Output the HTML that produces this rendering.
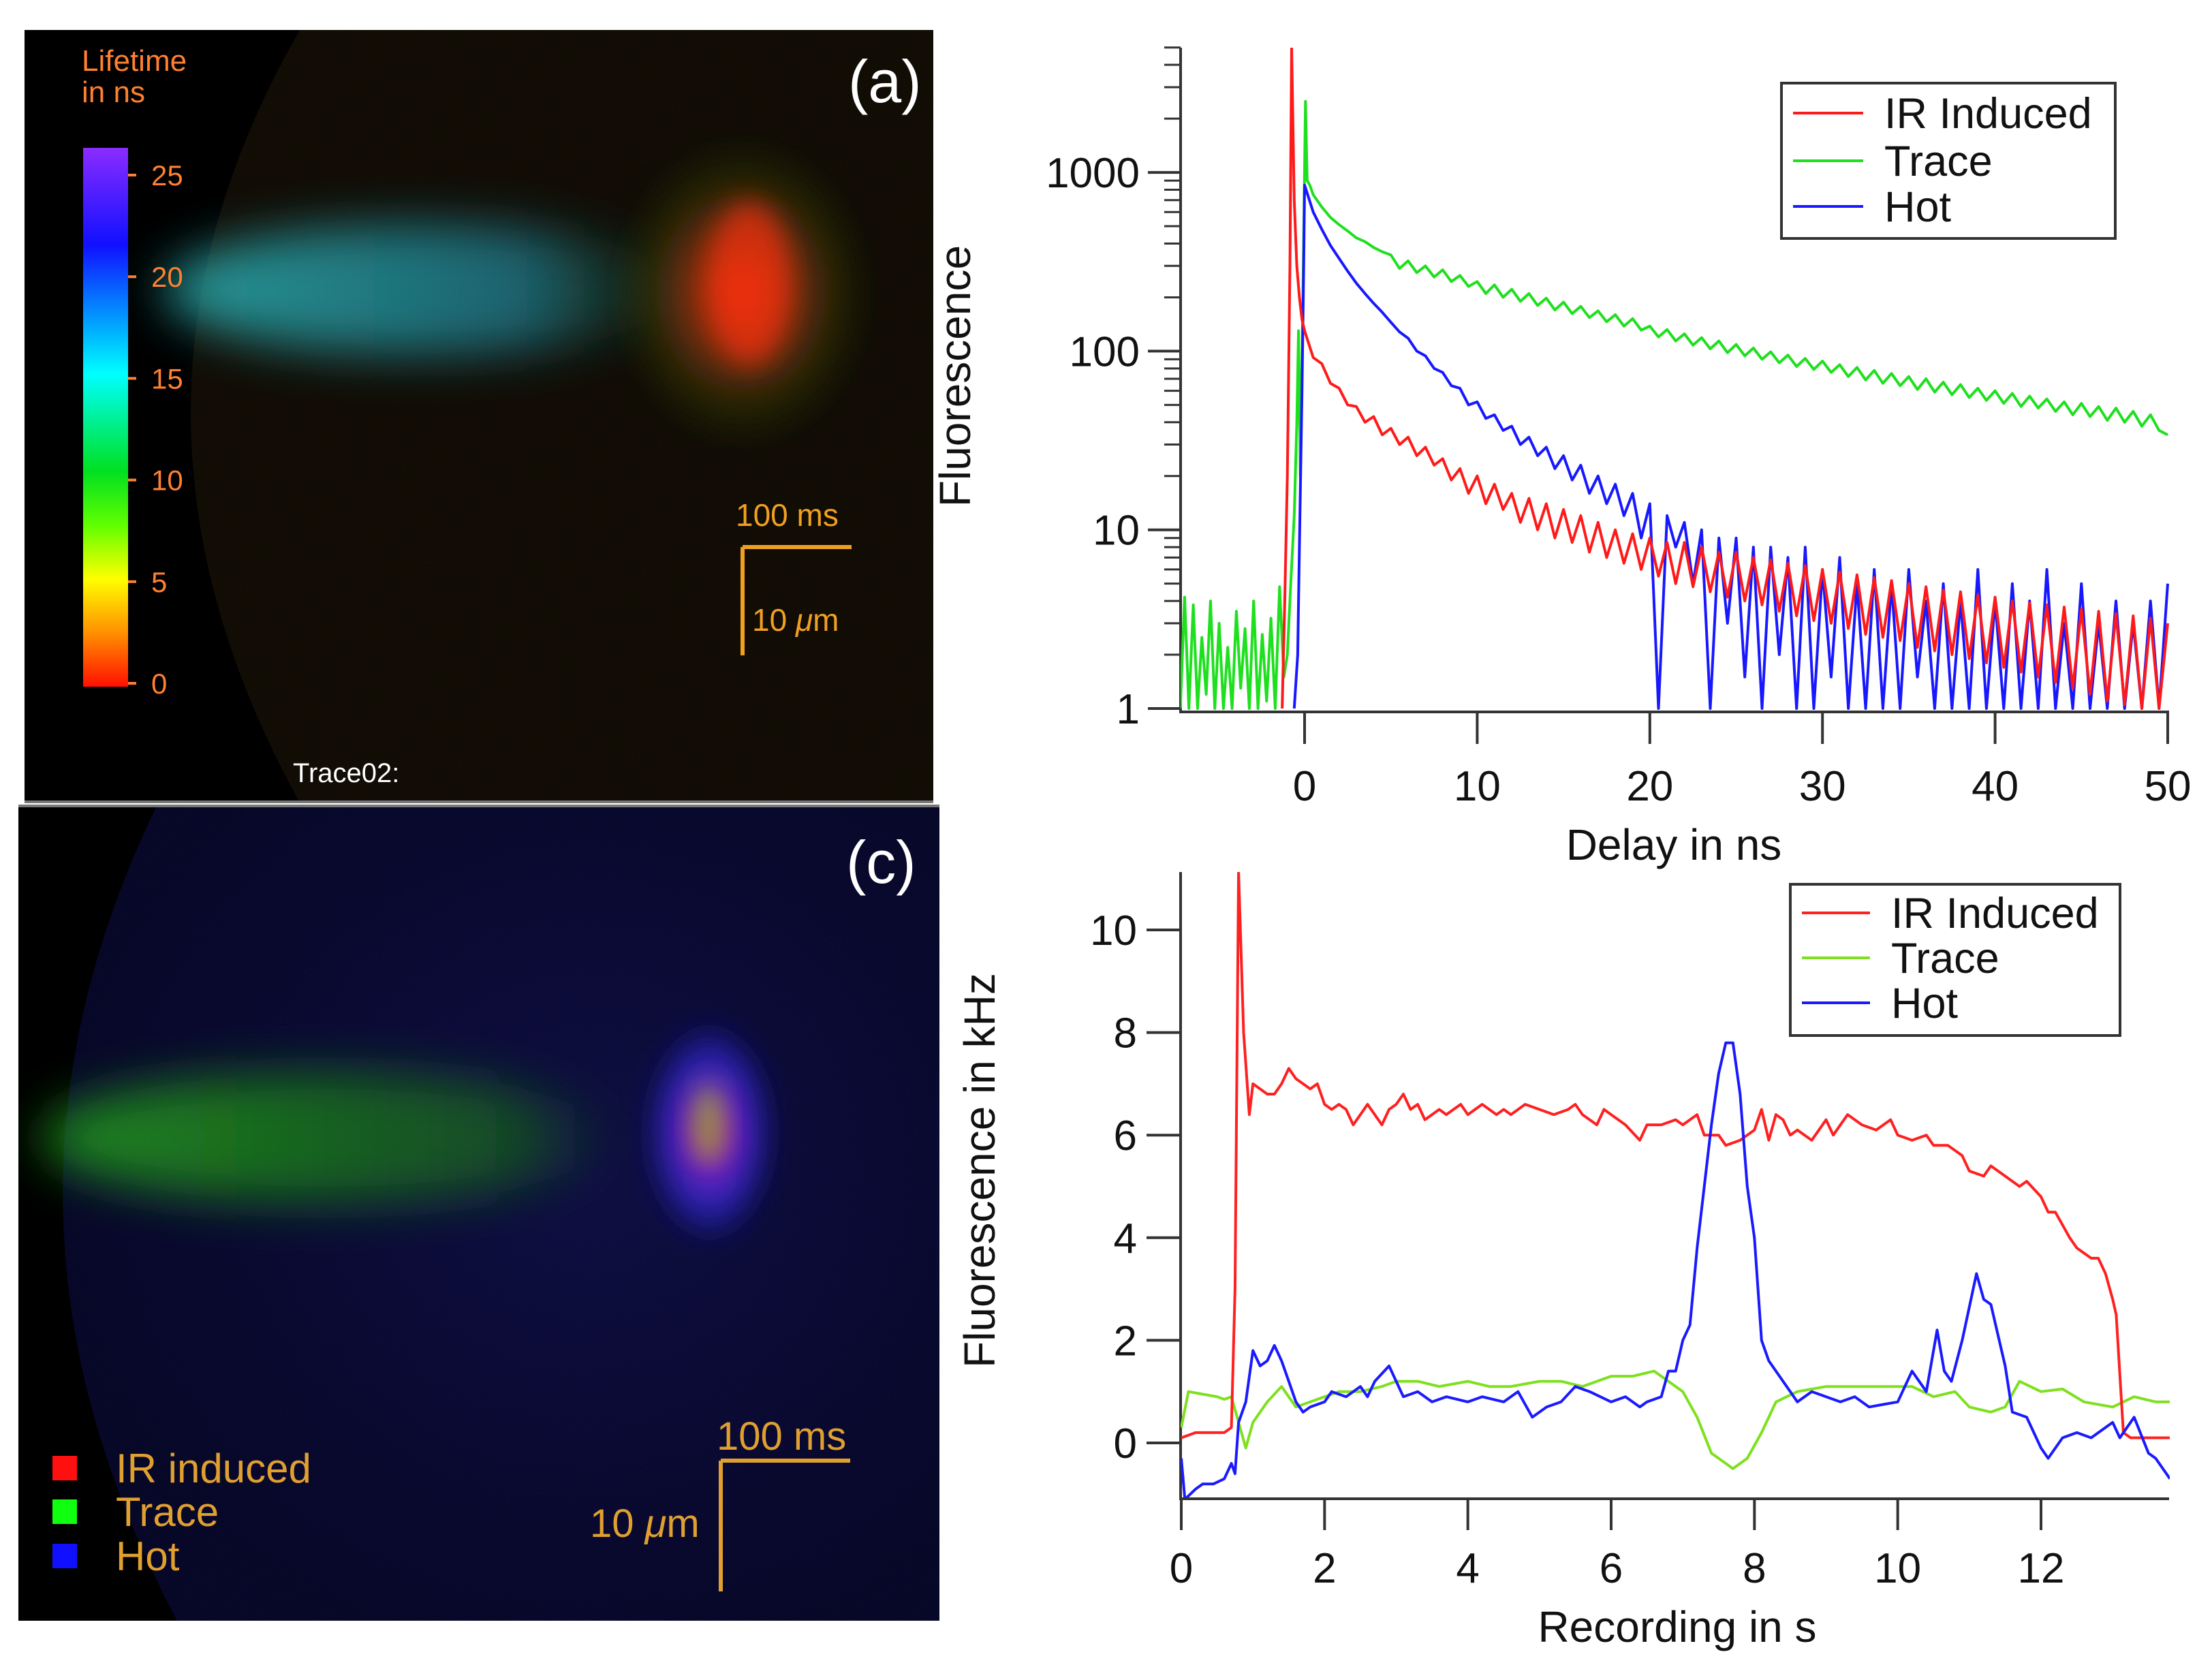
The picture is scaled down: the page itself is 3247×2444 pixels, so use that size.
<!DOCTYPE html>
<html><head><meta charset="utf-8"><style>
html,body{margin:0;padding:0;background:#fff;overflow:hidden;width:3247px;height:2444px;}
svg{display:block;font-family:"Liberation Sans",sans-serif;}
</style></head><body>
<svg id="fig" width="3247" height="2444" viewBox="0 0 3247 2444" xmlns="http://www.w3.org/2000/svg">
<defs>
  <filter id="noise" x="0" y="0" width="100%" height="100%">
    <feTurbulence type="fractalNoise" baseFrequency="0.9" numOctaves="1" seed="3" result="t"/>
    <feColorMatrix in="t" type="matrix" values="0 0 0 0 0  0 0 0 0 0  0 0 0 0 0  0 0 0 1.6 -0.6" result="m"/>
    <feComposite in="SourceGraphic" in2="m" operator="in"/>
  </filter>
  <filter id="blur40" x="-50%" y="-50%" width="200%" height="200%"><feGaussianBlur stdDeviation="35"/></filter>
  <filter id="blur20" x="-50%" y="-50%" width="200%" height="200%"><feGaussianBlur stdDeviation="18"/></filter>
  <linearGradient id="cbar" x1="0" y1="0" x2="0" y2="1">
    <stop offset="0" stop-color="#8a2cff"/>
    <stop offset="0.18" stop-color="#1010ff"/>
    <stop offset="0.34" stop-color="#00b0ff"/>
    <stop offset="0.42" stop-color="#00ffff"/>
    <stop offset="0.6" stop-color="#00e020"/>
    <stop offset="0.7" stop-color="#60ff00"/>
    <stop offset="0.8" stop-color="#ffff00"/>
    <stop offset="0.9" stop-color="#ff9000"/>
    <stop offset="1" stop-color="#ff1000"/>
  </linearGradient>
  <radialGradient id="redspot" cx="0.5" cy="0.5" r="0.5">
    <stop offset="0" stop-color="#ff3010" stop-opacity="0.9"/>
    <stop offset="0.4" stop-color="#c04010" stop-opacity="0.6"/>
    <stop offset="0.75" stop-color="#405010" stop-opacity="0.3"/>
    <stop offset="1" stop-color="#304010" stop-opacity="0"/>
  </radialGradient>
  <linearGradient id="tealband" x1="0" y1="0" x2="1" y2="0">
    <stop offset="0" stop-color="#28a0a0" stop-opacity="0.95"/>
    <stop offset="0.7" stop-color="#1c7080" stop-opacity="0.85"/>
    <stop offset="1" stop-color="#1a6040" stop-opacity="0"/>
  </linearGradient>
  <linearGradient id="greenband" x1="0" y1="0" x2="1" y2="0">
    <stop offset="0" stop-color="#20901e" stop-opacity="0.95"/>
    <stop offset="0.8" stop-color="#187018" stop-opacity="0.65"/>
    <stop offset="1" stop-color="#187018" stop-opacity="0"/>
  </linearGradient>
  <radialGradient id="bluespot" cx="0.5" cy="0.5" r="0.5">
    <stop offset="0" stop-color="#e02060" stop-opacity="0.95"/>
    <stop offset="0.35" stop-color="#8020e0" stop-opacity="0.85"/>
    <stop offset="0.7" stop-color="#3030ff" stop-opacity="0.5"/>
    <stop offset="1" stop-color="#1010a0" stop-opacity="0"/>
  </radialGradient>
  <radialGradient id="haze" cx="0.6" cy="0.45" r="0.6">
    <stop offset="0" stop-color="#0e0e3c"/><stop offset="1" stop-color="#060620"/>
  </radialGradient>
  <clipPath id="clipA"><rect x="36" y="44" width="1334" height="1134"/></clipPath>
  <clipPath id="clipC"><rect x="27" y="1183" width="1352" height="1196"/></clipPath>
  <clipPath id="clipTop"><rect x="1733" y="70" width="1452" height="972"/></clipPath>
  <clipPath id="clipBot"><rect x="1733" y="1280" width="1452" height="918"/></clipPath>
</defs>

<!-- Panel (a) -->
<g clip-path="url(#clipA)">
  <rect x="36" y="44" width="1334" height="1134" fill="#000"/>
  <path d="M440 44 Q120 600 440 1178 L1370 1178 L1370 44 Z" fill="#0f0b05"/>
  <path d="M440 44 Q120 600 440 1178 L1370 1178 L1370 44 Z" fill="#2a2010" filter="url(#noise)" opacity="0.5"/>
  <ellipse cx="620" cy="425" rx="380" ry="95" fill="url(#tealband)" filter="url(#blur40)"/>
  <ellipse cx="1090" cy="430" rx="190" ry="230" fill="url(#redspot)" filter="url(#blur20)"/>
  <ellipse cx="1100" cy="415" rx="60" ry="120" fill="#ff3010" opacity="0.6" filter="url(#blur20)"/>
</g>
<rect x="36" y="1175" width="1334" height="4" fill="#777"/>
<g>
  <rect x="122" y="217" width="66" height="791" fill="url(#cbar)"/>
  <g font-size="44" fill="#ff8030">
    <text x="120" y="104">Lifetime</text>
    <text x="120" y="150">in ns</text>
  </g>
</g>
<g id="cbticks"></g>
<text x="1245" y="150" font-size="88" fill="#fff">(a)</text>
<g stroke="#f0a020" stroke-width="6" fill="none">
  <path d="M1090 803 H1250 M1090 803 V962"/>
</g>
<text x="1080" y="772" font-size="46" fill="#f0a020">100 ms</text>
<text x="1104" y="926" font-size="46" fill="#f0a020">10 <tspan font-style="italic">μ</tspan>m</text>
<text x="430" y="1148" font-size="40" fill="#fff">Trace02:</text>

<!-- Panel (c) -->
<g clip-path="url(#clipC)">
  <rect x="27" y="1183" width="1352" height="1196" fill="#000"/>
  <path d="M230 1183 Q-60 1780 260 2379 L1379 2379 L1379 1183 Z" fill="url(#haze)"/>
  <path d="M230 1183 Q-60 1780 260 2379 L1379 2379 L1379 1183 Z" fill="#2020a0" filter="url(#noise)" opacity="0.3"/>
  <ellipse cx="480" cy="1670" rx="420" ry="95" fill="url(#greenband)" filter="url(#blur40)"/>
  <ellipse cx="1042" cy="1662" rx="100" ry="170" fill="url(#bluespot)" filter="url(#blur20)"/>
  <ellipse cx="1040" cy="1650" rx="25" ry="60" fill="#90d020" opacity="0.6" filter="url(#blur20)"/>
</g>
<rect x="27" y="1181" width="1352" height="4" fill="#777"/>
<text x="1242" y="1296" font-size="88" fill="#fff">(c)</text>
<g>
  <rect x="77" y="2137" width="36" height="36" fill="#ff1010"/>
  <rect x="77" y="2201" width="36" height="36" fill="#10ff10"/>
  <rect x="77" y="2266" width="36" height="36" fill="#1010ff"/>
  <g font-size="60" fill="#e0a030">
    <text x="170" y="2176">IR induced</text>
    <text x="170" y="2240">Trace</text>
    <text x="170" y="2305">Hot</text>
  </g>
</g>
<g stroke="#e0a030" stroke-width="6" fill="none">
  <path d="M1058 2144 H1248 M1058 2144 V2336"/>
</g>
<text x="1052" y="2128" font-size="58" fill="#e0a030">100 ms</text>
<text x="866" y="2256" font-size="58" fill="#e0a030">10 <tspan font-style="italic">μ</tspan>m</text>

<g id="topChart"></g>
<g id="botChart"></g>
</svg>

<script>
// ---------- Top chart data (fluorescence decay, log scale) ----------
const topXTicks = [0, 10, 20, 30, 40, 50];
const topYTicks = [1, 10, 100, 1000];
const topYTickLabels = ["1", "10", "100", "1000"];
const topSeriesNames = ["IR Induced", "Trace", "Hot"];
const redPreX = [-1.3, -1.15, -1.0, -0.85, -0.75, -0.6, -0.45, -0.3, -0.15];
const redPreY = [1, 4, 20, 300, 5000, 700, 300, 200, 150];
const redStart = 0;
const redVals = [130,92,85,66,62,50,49,40,43,34,37,30,33,26,29,23,25,19,22,16,20,14,18,13,16,11,15,10,14,9,13,8.5,12,7.5,11,7,10,6.5,9.5,6,9,5.5,8.5,5,8.5,4.8,8,4.5,7.5,4.2,7.5,4,7,3.8,6.8,3.5,6.5,3.3,6.3,3.1,6,3,5.8,2.8,5.6,2.6,5.4,2.5,5.2,2.4,5,2.2,4.8,2.1,4.6,2,4.5,1.9,4.3,1.8,4.2,1.7,4,1.6,3.9,1.5,3.8,1.4,3.7,1.3,3.6,1.2,3.5,1.1,3.4,1.05,3.3,1,3.2,1,3];
const greenPreX = [-7.2,-6.95,-6.7,-6.45,-6.2,-5.95,-5.7,-5.45,-5.2,-4.95,-4.7,-4.45,-4.2,-3.95,-3.7,-3.45,-3.2,-2.95,-2.7,-2.45,-2.2,-1.95,-1.7,-1.45,-1.2,-1.0,-0.8,-0.6,-0.45,-0.35,-0.25,-0.1,0.05,0.15,0.3];
const greenPreY = [1,4.2,1,3.8,1,2.5,1.2,4,1,3,1,2.2,1,3.5,1.3,2.8,1,4,1,2.6,1.1,3.2,1,4.8,1.5,2,5,12,40,130,20,200,2500,900,850];
const greenStart = 0.5;
const greenVals = [750,640,560,510,470,430,410,380,360,345,290,320,275,300,260,285,245,265,230,245,210,235,200,222,190,210,180,198,170,188,162,178,154,168,146,160,138,152,131,138,120,132,114,125,108,119,103,114,98,109,94,104,90,99,86,95,82,91,79,88,76,84,72,81,69,78,66,75,64,72,61,70,59,67,57,65,55,62,53,60,51,58,49,56,48,54,46,52,44,51,43,49,41,48,40,46,38,44,36,34];
const bluePreX = [-0.6, -0.4, -0.3, -0.15, -0.05];
const bluePreY = [1, 2, 8, 60, 300];
const blueStart = 0;
const blueVals = [850,600,480,390,330,280,240,210,185,165,145,128,118,100,94,80,76,64,62,50,52,42,44,36,38,30,33,26,29,22,26,19,23,16,20,14,18,12,16,9,14,1,12,8,11,5,10,1,9,3,9,1.5,8,1,8,2,7,1,8,1,6,1.5,7,1,5,1,6,1,5,1,6,1.5,4,1,5,1,4,1,6,1,4,1,5,1,4,1,6,1,3,1,5,1,3,1,4,1,3,1,4,1,5];
const step = 0.5;

// ---------- Bottom chart data (recording) ----------
const botXTicks = [0, 2, 4, 6, 8, 10, 12];
const botYTicks = [0, 2, 4, 6, 8, 10];
const botRedX = [0,0.2,0.4,0.6,0.7,0.75,0.8,0.87,0.95,1.0,1.1,1.2,1.3,1.4,1.5,1.6,1.7,1.8,1.9,2.0,2.1,2.2,2.3,2.4,2.5,2.6,2.7,2.8,2.9,3.0,3.1,3.2,3.3,3.4,3.5,3.6,3.7,3.8,3.9,4.0,4.2,4.4,4.5,4.6,4.8,5.0,5.2,5.4,5.5,5.6,5.8,5.9,6.0,6.2,6.4,6.5,6.7,6.9,7.0,7.2,7.3,7.5,7.6,7.8,8.0,8.1,8.2,8.3,8.4,8.5,8.6,8.8,9.0,9.1,9.3,9.5,9.7,9.9,10.0,10.2,10.4,10.5,10.7,10.9,11.0,11.2,11.3,11.5,11.7,11.8,12.0,12.1,12.2,12.4,12.5,12.7,12.8,12.9,13.0,13.05,13.15,13.25,13.5,13.8];
const botRedY = [0.1,0.2,0.2,0.2,0.3,3,11.5,8,6.4,7.0,6.9,6.8,6.8,7.0,7.3,7.1,7.0,6.9,7.0,6.6,6.5,6.6,6.5,6.2,6.4,6.6,6.4,6.2,6.5,6.6,6.8,6.5,6.6,6.3,6.4,6.5,6.4,6.5,6.6,6.4,6.6,6.4,6.5,6.4,6.6,6.5,6.4,6.5,6.6,6.4,6.2,6.5,6.4,6.2,5.9,6.2,6.2,6.3,6.2,6.4,6.0,6.0,5.8,5.9,6.1,6.5,5.9,6.4,6.3,6.0,6.1,5.9,6.3,6.0,6.4,6.2,6.1,6.3,6.0,5.9,6.0,5.8,5.8,5.6,5.3,5.2,5.4,5.2,5.0,5.1,4.8,4.5,4.5,4.0,3.8,3.6,3.6,3.3,2.8,2.5,0.2,0.1,0.1,0.1];
const botGreenX = [0,0.1,0.3,0.5,0.6,0.7,0.8,0.9,1.0,1.2,1.4,1.6,1.8,2.0,2.2,2.5,2.8,3.0,3.3,3.6,4.0,4.3,4.6,5.0,5.3,5.6,6.0,6.3,6.6,6.8,7.0,7.2,7.4,7.7,7.9,8.1,8.3,8.6,9.0,9.4,9.8,10.2,10.5,10.8,11.0,11.3,11.5,11.7,12.0,12.3,12.6,13.0,13.3,13.6,13.8];
const botGreenY = [0.3,1.0,0.95,0.9,0.85,0.9,0.4,-0.1,0.4,0.8,1.1,0.7,0.8,0.9,1.0,1.0,1.1,1.2,1.2,1.1,1.2,1.1,1.1,1.2,1.2,1.1,1.3,1.3,1.4,1.2,1.0,0.5,-0.2,-0.5,-0.3,0.2,0.8,1.0,1.1,1.1,1.1,1.1,0.9,1.0,0.7,0.6,0.7,1.2,1.0,1.05,0.8,0.7,0.9,0.8,0.8];
const botBlueX = [0,0.05,0.2,0.3,0.45,0.6,0.7,0.75,0.8,0.9,1.0,1.1,1.2,1.3,1.4,1.5,1.6,1.7,1.8,2.0,2.1,2.3,2.5,2.6,2.7,2.9,3.1,3.3,3.5,3.7,4.0,4.2,4.5,4.7,4.9,5.1,5.3,5.5,5.7,6.0,6.2,6.4,6.5,6.7,6.8,6.9,7.0,7.1,7.2,7.3,7.4,7.5,7.6,7.7,7.8,7.9,8.0,8.1,8.2,8.4,8.6,8.8,9.0,9.2,9.4,9.6,9.8,10.0,10.2,10.4,10.55,10.65,10.75,10.9,11.1,11.2,11.3,11.5,11.6,11.8,12.0,12.1,12.3,12.5,12.7,12.9,13.0,13.1,13.3,13.5,13.6,13.8];
const botBlueY = [-0.3,-1.1,-0.9,-0.8,-0.8,-0.7,-0.4,-0.6,0.4,0.8,1.8,1.5,1.6,1.9,1.6,1.2,0.8,0.6,0.7,0.8,1.0,0.9,1.1,0.9,1.2,1.5,0.9,1.0,0.8,0.9,0.8,0.9,0.8,1.0,0.5,0.7,0.8,1.1,1.0,0.8,0.9,0.7,0.8,0.9,1.4,1.4,2.0,2.3,3.8,5.0,6.2,7.2,7.8,7.8,6.8,5.0,4.0,2.0,1.6,1.2,0.8,1.0,0.9,0.8,0.9,0.7,0.75,0.8,1.4,1.0,2.2,1.4,1.2,2.0,3.3,2.8,2.7,1.5,0.6,0.5,-0.1,-0.3,0.1,0.2,0.1,0.3,0.4,0.1,0.5,-0.2,-0.3,-0.7];
const botSeriesNames = ["IR Induced", "Trace", "Hot"];

const NS = "http://www.w3.org/2000/svg";
function mk(tag, attrs, parent) {
  const e = document.createElementNS(NS, tag);
  for (const k in attrs) e.setAttribute(k, attrs[k]);
  parent.appendChild(e);
  return e;
}

const cbTicks = [0, 5, 10, 15, 20, 25];
const cbG = document.getElementById('cbticks');
cbTicks.forEach(v => {
  const y = 1003 - v * (1003 - 257) / 25;
  const l = mk('line', {x1: 188, x2: 200, y1: y, y2: y, stroke: '#ff8030', 'stroke-width': 4}, cbG);
  
  
  const t = mk('text', {x: 222, y: y + 15, 'font-size': 42, fill: '#ff8030'}, cbG);
  
  
  t.textContent = String(v);
});

(function () {
  const g = document.getElementById('topChart');
  const L = 1733, R = 3182, T = 70, B = 1042;
  const x0 = 1915, pxPerNs = (3182 - 1915) / 50;
  const y1 = 1040, pxPerDec = 262.3;
  const X = t => x0 + t * pxPerNs;
  const Y = v => y1 - Math.log10(v) * pxPerDec;
  const ax = mk('path', {d: `M${L} ${T} V${B + 3} H${R + 2}`, stroke: '#333', 'stroke-width': 4, fill: 'none'}, g);
  
  
  for (let d = 0; d < 4; d++) {
    for (let m = 2; m <= 9; m++) {
      const v = m * Math.pow(10, d);
      if (v > 5000) break;
      const y = Y(v);
      const l = mk('line', {x1: L - 24, x2: L, y1: y, y2: y, stroke: '#333', 'stroke-width': 3}, g);
      
      
    }
  }
  topYTicks.forEach((v, i) => {
    const y = Y(v);
    const l = mk('line', {x1: L - 48, x2: L, y1: y, y2: y, stroke: '#333', 'stroke-width': 4}, g);
    
    
    const t = mk('text', {x: L - 60, y: y + 22, 'font-size': 62, 'text-anchor': 'end', fill: '#111'}, g);
    
    
    t.textContent = topYTickLabels[i];
  });
  topXTicks.forEach(v => {
    const x = X(v);
    const l = mk('line', {x1: x, x2: x, y1: B + 3, y2: B + 50, stroke: '#333', 'stroke-width': 4}, g);
    
    
    const t = mk('text', {x: x, y: 1175, 'font-size': 62, 'text-anchor': 'middle', fill: '#111'}, g);
    
    
    t.textContent = String(v);
  });
  const xt = mk('text', {x: 2457, y: 1262, 'font-size': 64, 'text-anchor': 'middle', fill: '#111'}, g);
  
  
  xt.textContent = 'Delay in ns';
  const yt = mk('text', {x: 0, y: 0, 'font-size': 64, 'text-anchor': 'middle', fill: '#111', transform: 'translate(1424 552) rotate(-90)'}, g);
  
  
  yt.textContent = 'Fluorescence';

  const plot = mk('g', {'clip-path': 'url(#clipTop)'}, g);
  
  
  function series(preX, preY, start, vals, color, name) {
    let d = '';
    const pts = [];
    preX.forEach((t, i) => pts.push([X(t), Y(Math.max(preY[i], 0.5))]));
    vals.forEach((v, i) => pts.push([X(start + i * step), Y(Math.max(v, 0.5))]));
    pts.forEach((p, i) => d += (i ? 'L' : 'M') + p[0].toFixed(1) + ' ' + Math.max(p[1], 70).toFixed(1));
    const p = mk('path', {d: d, stroke: color, 'stroke-width': 4, fill: 'none', 'stroke-linejoin': 'round'}, plot);
    
    
  }
  series(greenPreX, greenPreY, greenStart, greenVals, '#1ee01e', 'trace-decay-line');
  series(bluePreX, bluePreY, blueStart, blueVals, '#1818ff', 'hot-decay-line');
  series(redPreX, redPreY, redStart, redVals, '#ff1a1a', 'ir-induced-decay-line');

  const lg = mk('g', {}, g);
  
  
  mk('rect', {x: 2615, y: 122, width: 490, height: 228, fill: '#fff', stroke: '#333', 'stroke-width': 4}, lg);
  const cols = ['#ff1a1a', '#1ee01e', '#1818ff'];
  const rows = [166, 236, 303];
  topSeriesNames.forEach((n, i) => {
    const l = mk('line', {x1: 2632, x2: 2735, y1: rows[i], y2: rows[i], stroke: cols[i], 'stroke-width': 4}, lg);
    
    
    const t = mk('text', {x: 2766, y: rows[i] + 22, 'font-size': 63, fill: '#111'}, lg);
    
    
    t.textContent = n;
  });
})();

(function () {
  const g = document.getElementById('botChart');
  const L = 1733, R = 3182, T = 1280, B = 2200;
  const x0 = 1734, pxPerS = (2996 - 1734) / 12;
  const y0 = 2118, pxPerK = 75.3;
  const X = t => x0 + t * pxPerS;
  const Y = v => y0 - v * pxPerK;
  const ax = mk('path', {d: `M${L} ${T} V${B} H${R + 2}`, stroke: '#333', 'stroke-width': 4, fill: 'none'}, g);
  
  
  botYTicks.forEach(v => {
    const y = Y(v);
    const l = mk('line', {x1: L - 50, x2: L, y1: y, y2: y, stroke: '#333', 'stroke-width': 4}, g);
    
    
    const t = mk('text', {x: L - 64, y: y + 22, 'font-size': 62, 'text-anchor': 'end', fill: '#111'}, g);
    
    
    t.textContent = String(v);
  });
  botXTicks.forEach(v => {
    const x = X(v);
    const l = mk('line', {x1: x, x2: x, y1: B, y2: B + 46, stroke: '#333', 'stroke-width': 4}, g);
    
    
    const t = mk('text', {x: x, y: 2323, 'font-size': 62, 'text-anchor': 'middle', fill: '#111'}, g);
    
    
    t.textContent = String(v);
  });
  const xt = mk('text', {x: 2462, y: 2410, 'font-size': 64, 'text-anchor': 'middle', fill: '#111'}, g);
  
  
  xt.textContent = 'Recording in s';
  const yt = mk('text', {x: 0, y: 0, 'font-size': 64, 'text-anchor': 'middle', fill: '#111', transform: 'translate(1460 1718) rotate(-90)'}, g);
  
  
  yt.textContent = 'Fluorescence in kHz';

  const plot = mk('g', {'clip-path': 'url(#clipBot)'}, g);
  
  
  function series(xs, ys, color, name) {
    let d = '';
    xs.forEach((t, i) => d += (i ? 'L' : 'M') + X(t).toFixed(1) + ' ' + Math.max(Y(ys[i]), 1280).toFixed(1));
    const p = mk('path', {d: d, stroke: color, 'stroke-width': 4, fill: 'none', 'stroke-linejoin': 'round'}, plot);
    
    
  }
  series(botGreenX, botGreenY, '#7ee01e', 'trace-recording-line');
  series(botRedX, botRedY, '#ff2020', 'ir-induced-recording-line');
  series(botBlueX, botBlueY, '#1a1aff', 'hot-recording-line');

  const lg = mk('g', {}, g);
  
  
  mk('rect', {x: 2628, y: 1298, width: 484, height: 222, fill: '#fff', stroke: '#333', 'stroke-width': 4}, lg);
  const cols = ['#ff2020', '#7ee01e', '#1a1aff'];
  const rows = [1340, 1406, 1472];
  botSeriesNames.forEach((n, i) => {
    const l = mk('line', {x1: 2645, x2: 2745, y1: rows[i], y2: rows[i], stroke: cols[i], 'stroke-width': 4}, lg);
    
    
    const t = mk('text', {x: 2776, y: rows[i] + 22, 'font-size': 63, fill: '#111'}, lg);
    
    
    t.textContent = n;
  });
})();
</script>
</body></html>
